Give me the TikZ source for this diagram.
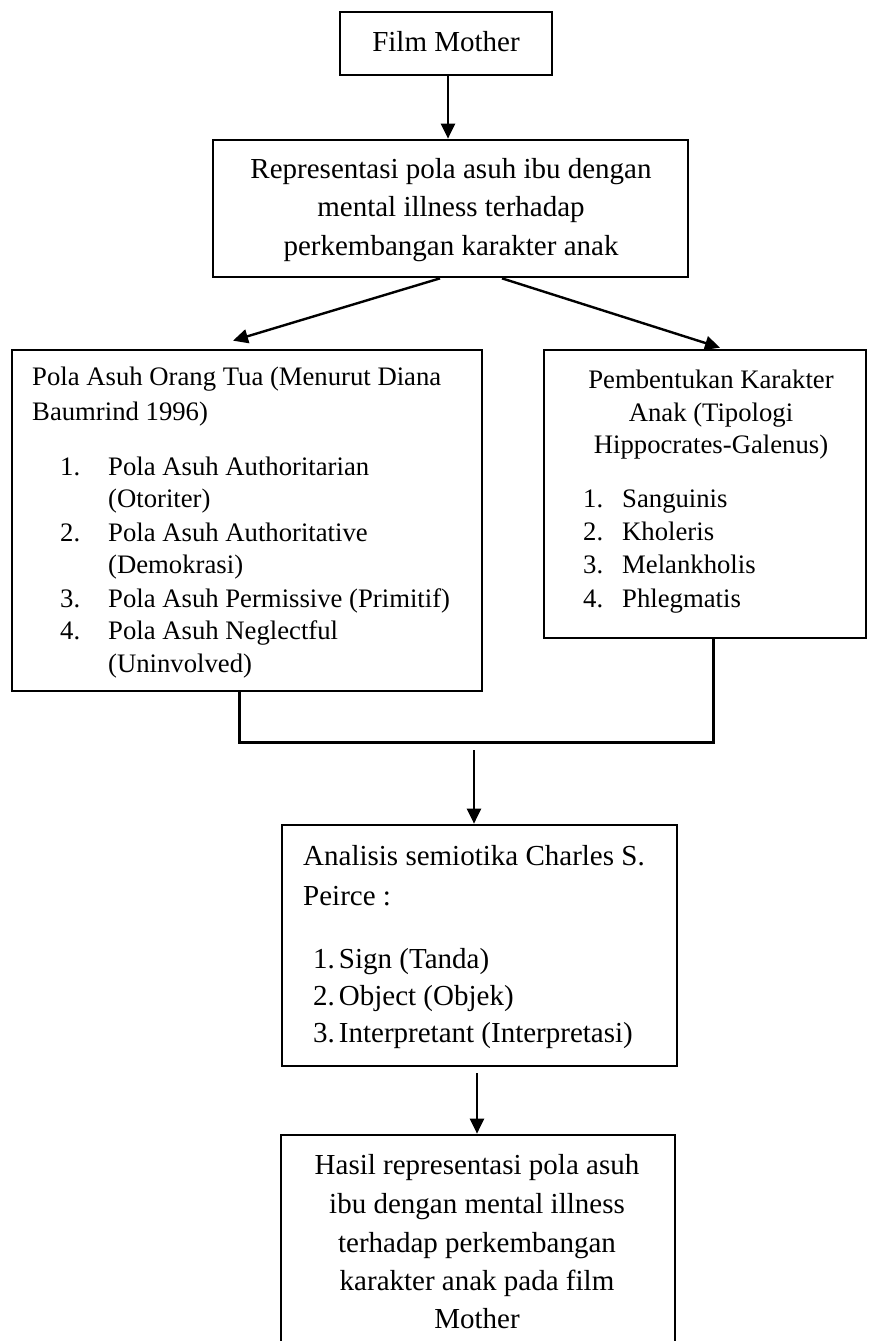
\documentclass[tikz,border=0pt]{standalone}
\usepackage{fontspec}
\setmainfont{Liberation Serif}
\usetikzlibrary{arrows.meta}
\begin{document}
\begin{tikzpicture}[x=1pt,y=-1pt,
  box/.style={draw, line width=2.7pt, inner sep=0pt},
  conn/.style={line width=2.4pt},
  arr/.style={conn, -{Triangle[length=15pt,width=14pt]}},
  txt/.style={font=\fontsize{29}{34}\selectfont, inner sep=0pt},
  stxt/.style={font=\fontsize{26.7}{32}\selectfont, inner sep=0pt}]
\useasboundingbox (0,0) rectangle (868,1341);
% boxes
\node[box, minimum width=212pt, minimum height=63pt] (film) at (446,43.5) {};
\node[box, minimum width=475pt, minimum height=137pt] (rep) at (450.5,208.5) {};
\node[box, minimum width=470pt, minimum height=341pt] (left) at (247,520.5) {};
\node[box, minimum width=322pt, minimum height=288pt] (right) at (705,494) {};
\node[box, minimum width=395pt, minimum height=241pt] (ana) at (479.5,945.5) {};
\node[box, minimum width=394pt, minimum height=225pt] (res) at (478,1247.5) {};
% texts
\node[txt, anchor=base] (t0) at (446,51) {Film Mother};
\foreach \t [count=\i] in {Representasi pola asuh ibu dengan, mental illness terhadap, perkembangan karakter anak}
  \node[txt, anchor=base] (r\i) at (451,{178+38.5*(\i-1)}) {\t};
\node[stxt, anchor=base west] (l1) at (32,385) {Pola Asuh Orang Tua (Menurut Diana};
\node[stxt, anchor=base west] (l2) at (32,420) {Baumrind 1996)};
\foreach \n/\t/\y [count=\i] in {1./Pola Asuh Authoritarian/475, /(Otoriter)/507, 2./Pola Asuh Authoritative/541, /(Demokrasi)/573, 3./Pola Asuh Permissive (Primitif)/607, 4./Pola Asuh Neglectful/639, /(Uninvolved)/672}{
  \node[stxt, anchor=base west] (ln\i) at (60,\y) {\n};
  \node[stxt, anchor=base west] (lt\i) at (108,\y) {\t};
}
\foreach \t/\y [count=\i] in {Pembentukan Karakter/388, Anak (Tipologi/421, Hippocrates-Galenus)/453}
  \node[stxt, anchor=base] (p\i) at (711,\y) {\t};
\foreach \n/\t/\y [count=\i] in {1./Sanguinis/507, 2./Kholeris/540, 3./Melankholis/573, 4./Phlegmatis/607}{
  \node[stxt, anchor=base west] (pn\i) at (583,\y) {\n};
  \node[stxt, anchor=base west] (pt\i) at (622,\y) {\t};
}
\node[txt, anchor=base west] (a1) at (303,865) {Analisis semiotika Charles S.};
\node[txt, anchor=base west] (a2) at (303,905) {Peirce :};
\foreach \n/\t/\y [count=\i] in {1./Sign (Tanda)/968, 2./Object (Objek)/1005, 3./Interpretant (Interpretasi)/1042}
  \node[txt, anchor=base west] (ai\i) at (313,\y) {\n\kern4pt\t};
\foreach \t/\y [count=\i] in {Hasil representasi pola asuh/1174, ibu dengan mental illness/1213, terhadap perkembangan/1252, karakter anak pada film/1290, Mother/1328}
  \node[txt, anchor=base] (h\i) at (477,\y) {\t};
% connectors
\draw[arr] ([xshift=2pt]film.south) -- ([xshift=2pt]film.south |- rep.north);
\draw[arr] ([xshift=-10.5pt]rep.south) -- ([xshift=-14pt,yshift=8pt]left.north);
\draw[arr] ([xshift=51.5pt]rep.south) -- ([xshift=15pt,yshift=1pt]right.north);
\coordinate (jl) at (239,742);
\coordinate (jr) at (713,742);
\draw[conn, line width=3pt] ([xshift=-8pt]left.south) -- (jl) -- (jr) -- ([xshift=8pt]right.south);
\coordinate (js) at (474,750);
\draw[arr] (js) -- (js |- ana.north);
\coordinate (as) at (477,1073);
\draw[arr] (as) -- (as |- res.north);
\end{tikzpicture}
\end{document}
